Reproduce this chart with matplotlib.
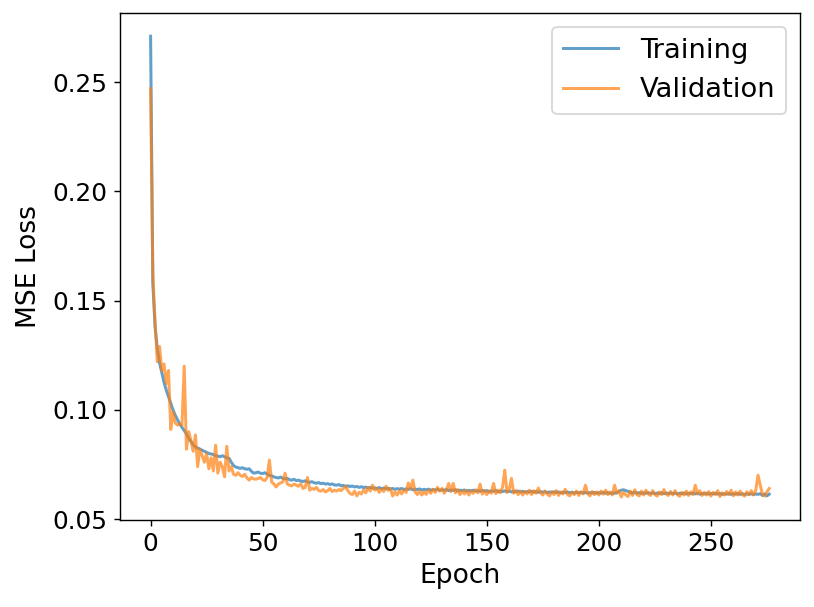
import matplotlib
matplotlib.use('Agg')
import matplotlib.pyplot as plt
import numpy as np

# loss values, one per epoch (0..276)
train_loss = [
    0.2710, 0.1580, 0.1380, 0.1280, 0.1215, 0.1170, 0.1125, 0.1090, 0.1060, 0.1030,
    0.1000, 0.0975, 0.0955, 0.0935, 0.0920, 0.0905, 0.0890, 0.0870, 0.0855, 0.0840,
    0.0830, 0.0825, 0.0820, 0.0815, 0.0810, 0.0805, 0.0800, 0.0798, 0.0795, 0.0790,
    0.0788, 0.0785, 0.0790, 0.0785, 0.0780, 0.0778, 0.0760, 0.0745, 0.0738, 0.0735,
    0.0732, 0.0735, 0.0730, 0.0728, 0.0730, 0.0718, 0.0710, 0.0712, 0.0715, 0.0710,
    0.0708, 0.0712, 0.0705, 0.0700, 0.0698, 0.0693, 0.0690, 0.0688, 0.0692, 0.0686,
    0.0684, 0.0686, 0.0680, 0.0678, 0.0682, 0.0676, 0.0678, 0.0674, 0.0672, 0.0675,
    0.0670, 0.0668, 0.0671, 0.0666, 0.0664, 0.0667, 0.0662, 0.0664, 0.0660, 0.0662,
    0.0658, 0.0661, 0.0656, 0.0655, 0.0658, 0.0652, 0.0654, 0.0650, 0.0652, 0.0649,
    0.0651, 0.0647, 0.0649, 0.0645, 0.0648, 0.0644, 0.0646, 0.0642, 0.0645, 0.0641,
    0.0643, 0.0640, 0.0644, 0.0639, 0.0642, 0.0638, 0.0641, 0.0637, 0.0640, 0.0636,
    0.0639, 0.0637, 0.0640, 0.0635, 0.0638, 0.0636, 0.0639, 0.0634, 0.0637, 0.0635,
    0.0638, 0.0633, 0.0636, 0.0634, 0.0637, 0.0632, 0.0635, 0.0633, 0.0636, 0.0631,
    0.0634, 0.0632, 0.0635, 0.0630, 0.0633, 0.0631, 0.0634, 0.0629, 0.0632, 0.0630,
    0.0633, 0.0628, 0.0631, 0.0629, 0.0632, 0.0628, 0.0630, 0.0627, 0.0631, 0.0628,
    0.0630, 0.0626, 0.0629, 0.0627, 0.0630, 0.0625, 0.0628, 0.0626, 0.0629, 0.0625,
    0.0628, 0.0624, 0.0627, 0.0625, 0.0628, 0.0624, 0.0627, 0.0623, 0.0626, 0.0624,
    0.0627, 0.0623, 0.0626, 0.0622, 0.0625, 0.0623, 0.0626, 0.0621, 0.0624, 0.0622,
    0.0625, 0.0621, 0.0624, 0.0620, 0.0623, 0.0621, 0.0624, 0.0620, 0.0623, 0.0619,
    0.0622, 0.0620, 0.0623, 0.0619, 0.0622, 0.0618, 0.0621, 0.0619, 0.0622, 0.0618,
    0.0621, 0.0619, 0.0622, 0.0618, 0.0621, 0.0617, 0.0620, 0.0618, 0.0621, 0.0626,
    0.0632, 0.0634, 0.0630, 0.0627, 0.0622, 0.0619, 0.0622, 0.0618, 0.0621, 0.0617,
    0.0620, 0.0618, 0.0621, 0.0617, 0.0620, 0.0616, 0.0619, 0.0617, 0.0620, 0.0616,
    0.0619, 0.0617, 0.0620, 0.0616, 0.0619, 0.0615, 0.0618, 0.0616, 0.0619, 0.0615,
    0.0618, 0.0616, 0.0619, 0.0615, 0.0618, 0.0614, 0.0617, 0.0615, 0.0618, 0.0614,
    0.0617, 0.0615, 0.0618, 0.0614, 0.0617, 0.0613, 0.0616, 0.0614, 0.0617, 0.0613,
    0.0616, 0.0614, 0.0617, 0.0613, 0.0616, 0.0612, 0.0615, 0.0613, 0.0616, 0.0612,
    0.0615, 0.0613, 0.0616, 0.0608, 0.0615, 0.0606, 0.0614,
]

val_loss = [
    0.2470, 0.1620, 0.1400, 0.1220, 0.1290, 0.1180, 0.1210, 0.1120, 0.1180, 0.0910,
    0.0990, 0.0940, 0.0930, 0.0935, 0.0930, 0.1200, 0.0820, 0.0900, 0.0860, 0.0810,
    0.0885, 0.0740, 0.0820, 0.0790, 0.0760, 0.0800, 0.0730, 0.0780, 0.0720, 0.0838,
    0.0710, 0.0760, 0.0740, 0.0693, 0.0833, 0.0720, 0.0740, 0.0705, 0.0700, 0.0712,
    0.0700, 0.0695, 0.0705, 0.0688, 0.0678, 0.0690, 0.0684, 0.0682, 0.0686, 0.0690,
    0.0680, 0.0676, 0.0690, 0.0770, 0.0670, 0.0660, 0.0647, 0.0660, 0.0665, 0.0670,
    0.0710, 0.0660, 0.0655, 0.0652, 0.0660, 0.0655, 0.0650, 0.0662, 0.0640, 0.0645,
    0.0690, 0.0632, 0.0640, 0.0636, 0.0645, 0.0630, 0.0628, 0.0635, 0.0624, 0.0630,
    0.0640, 0.0626, 0.0632, 0.0628, 0.0635, 0.0630, 0.0640, 0.0650, 0.0630, 0.0617,
    0.0612, 0.0628, 0.0606, 0.0622, 0.0615, 0.0633, 0.0620, 0.0645, 0.0628, 0.0655,
    0.0632, 0.0641, 0.0622, 0.0638, 0.0626, 0.0650, 0.0631, 0.0640, 0.0605, 0.0624,
    0.0610, 0.0630, 0.0615, 0.0634, 0.0622, 0.0665, 0.0640, 0.0678, 0.0625, 0.0612,
    0.0628, 0.0610, 0.0624, 0.0613, 0.0632, 0.0618, 0.0636, 0.0622, 0.0645, 0.0628,
    0.0640, 0.0618, 0.0634, 0.0663, 0.0626, 0.0663, 0.0620, 0.0635, 0.0612, 0.0628,
    0.0615, 0.0632, 0.0610, 0.0627, 0.0618, 0.0634, 0.0620, 0.0660, 0.0614, 0.0630,
    0.0612, 0.0628, 0.0618, 0.0663, 0.0616, 0.0632, 0.0620, 0.0645, 0.0724, 0.0622,
    0.0635, 0.0686, 0.0618, 0.0630, 0.0612, 0.0628, 0.0610, 0.0626, 0.0615, 0.0632,
    0.0612, 0.0630, 0.0618, 0.0642, 0.0620, 0.0610, 0.0628, 0.0614, 0.0606, 0.0625,
    0.0612, 0.0630, 0.0608, 0.0624, 0.0615, 0.0636, 0.0612, 0.0606, 0.0622, 0.0612,
    0.0628, 0.0608, 0.0624, 0.0615, 0.0655, 0.0618, 0.0606, 0.0626, 0.0612, 0.0624,
    0.0610, 0.0628, 0.0614, 0.0632, 0.0612, 0.0624, 0.0610, 0.0655, 0.0618, 0.0630,
    0.0601, 0.0622, 0.0610, 0.0603, 0.0628, 0.0608, 0.0634, 0.0612, 0.0606, 0.0628,
    0.0610, 0.0632, 0.0615, 0.0608, 0.0630, 0.0612, 0.0605, 0.0624, 0.0612, 0.0635,
    0.0614, 0.0608, 0.0626, 0.0610, 0.0630, 0.0612, 0.0604, 0.0622, 0.0610, 0.0628,
    0.0608, 0.0624, 0.0612, 0.0655, 0.0615, 0.0630, 0.0608, 0.0622, 0.0610, 0.0626,
    0.0605, 0.0622, 0.0612, 0.0630, 0.0603, 0.0620, 0.0610, 0.0626, 0.0612, 0.0632,
    0.0606, 0.0624, 0.0610, 0.0628, 0.0612, 0.0605, 0.0625, 0.0612, 0.0630, 0.0610,
    0.0632, 0.0701, 0.0655, 0.0612, 0.0605, 0.0625, 0.0640,
]

epochs = np.arange(len(train_loss))

plt.rcParams['font.size'] = 14
fig = plt.figure(figsize=(814/127, 607/127), dpi=127)
ax = fig.add_axes([0.147, 0.1433, 0.836, 0.835])

ax.plot(epochs, train_loss, color='tab:blue', alpha=0.7, lw=1.7, label='Training')
ax.plot(epochs, val_loss, color='tab:orange', alpha=0.7, lw=1.7, label='Validation')
ax.set_xlabel('Epoch', fontsize=15)
ax.set_ylabel('MSE Loss', fontsize=15, labelpad=6)
ax.set_xticks([0, 50, 100, 150, 200, 250])
ax.set_yticks([0.05, 0.10, 0.15, 0.20, 0.25])
ax.legend(loc='upper right', fontsize=15.5)

fig.savefig('out.png', dpi=127)
